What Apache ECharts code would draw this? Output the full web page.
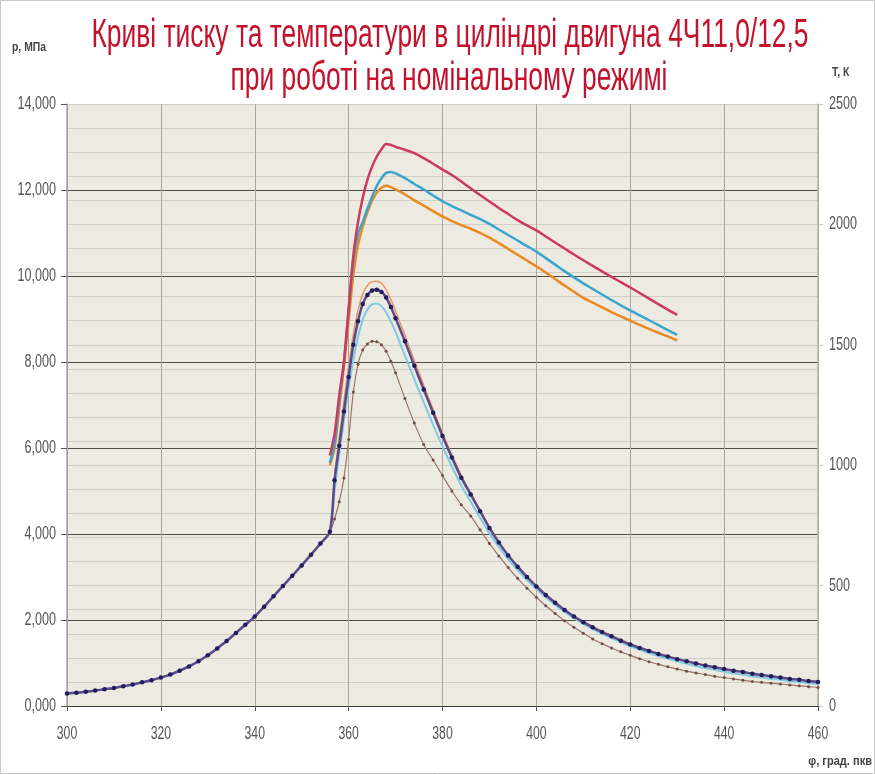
<!DOCTYPE html>
<html><head><meta charset="utf-8">
<script src="https://cdn.jsdelivr.net/npm/echarts@6/dist/echarts.min.js"></script>
<style>html,body{margin:0;padding:0;background:#fff}#c{width:875px;height:774px}</style>
</head><body><div id="c"></div>
<script>
// crank angle, degrees (compression, common to all pressure curves)
const phiComp = [300,302,304,306,308,310,312,314,316,318,320,322,324,326,328,330,332,334,336,338,340,342,344,346,348,350,352,354,356];
const pComp = [0.29,0.31,0.33,0.36,0.39,0.42,0.46,0.50,0.55,0.60,0.66,0.73,0.82,0.92,1.04,1.18,1.34,1.51,1.70,1.89,2.08,2.31,2.55,2.79,3.03,3.27,3.52,3.78,4.05];
// combustion + expansion
const phiExp = [357,358,359,360,361,362,363,364,365,366,367,368,369,370,372,374,376,378,380,382,384,386,388,390,392,394,396,398,400,402,404,406,408,410,412,414,416,418,420,422,424,426,428,430,432,434,436,438,440,442,444,446,448,450,452,454,456,458,460];
const pNavy = [5.25,6.05,6.85,7.65,8.40,8.95,9.35,9.56,9.66,9.68,9.63,9.50,9.28,9.02,8.48,7.91,7.36,6.82,6.28,5.78,5.31,4.92,4.53,4.14,3.80,3.50,3.24,3.00,2.78,2.58,2.40,2.23,2.08,1.95,1.83,1.72,1.62,1.52,1.43,1.35,1.28,1.21,1.15,1.09,1.04,0.99,0.94,0.90,0.86,0.82,0.79,0.75,0.72,0.69,0.66,0.63,0.61,0.58,0.56];
const pOrange = [5.35,6.25,7.10,7.90,8.65,9.20,9.58,9.78,9.87,9.88,9.83,9.68,9.45,9.18,8.62,8.03,7.46,6.90,6.35,5.84,5.36,4.96,4.56,4.17,3.83,3.52,3.26,3.02,2.80,2.60,2.42,2.25,2.10,1.97,1.85,1.74,1.64,1.54,1.45,1.37,1.29,1.22,1.16,1.10,1.05,1.00,0.95,0.91,0.87,0.83,0.80,0.76,0.73,0.70,0.67,0.64,0.62,0.59,0.57];
const pCyan = [5.00,5.85,6.65,7.40,8.05,8.58,8.98,9.22,9.34,9.36,9.30,9.15,8.94,8.70,8.15,7.60,7.06,6.54,6.04,5.57,5.13,4.75,4.38,4.02,3.70,3.41,3.16,2.93,2.72,2.53,2.35,2.19,2.04,1.91,1.79,1.68,1.58,1.48,1.39,1.31,1.23,1.16,1.10,1.04,0.98,0.93,0.88,0.84,0.80,0.76,0.73,0.69,0.66,0.63,0.61,0.58,0.56,0.53,0.51];
const pBrown = [4.35,4.75,5.30,6.20,7.30,7.95,8.28,8.42,8.48,8.47,8.40,8.25,8.02,7.75,7.15,6.58,6.08,5.72,5.36,5.00,4.68,4.42,4.10,3.78,3.49,3.22,2.97,2.74,2.53,2.33,2.15,1.98,1.83,1.69,1.56,1.45,1.35,1.26,1.18,1.10,1.03,0.97,0.91,0.86,0.81,0.77,0.73,0.69,0.66,0.63,0.60,0.57,0.55,0.53,0.51,0.49,0.47,0.45,0.43];
// temperatures, K
const phiT = [356,357,358,359,360,361,362,363,364,365,366,367,368,369,370,372,374,376,378,380,382,384,386,388,390,392,394,396,398,400,402,404,406,408,410,412,414,416,418,420,422,424,426,428,430];
const tRed = [1040,1130,1290,1430,1650,1870,2010,2110,2185,2240,2282,2312,2334,2330,2322,2310,2296,2275,2252,2228,2205,2178,2150,2122,2095,2068,2043,2018,1996,1975,1950,1925,1900,1875,1851,1828,1805,1782,1760,1738,1715,1692,1669,1646,1624];
const tCyan = [1010,1090,1260,1430,1640,1850,1960,2010,2065,2115,2160,2192,2214,2218,2212,2192,2168,2145,2120,2096,2076,2058,2040,2022,2002,1979,1956,1933,1910,1887,1860,1833,1806,1780,1755,1732,1709,1686,1664,1643,1622,1602,1582,1561,1541];
const tOrange = [1000,1070,1240,1410,1600,1790,1915,1990,2050,2098,2132,2152,2160,2155,2145,2125,2100,2078,2055,2033,2014,1997,1982,1965,1945,1922,1898,1874,1850,1826,1800,1773,1746,1720,1695,1675,1655,1636,1618,1600,1583,1566,1550,1535,1518];

// tick labels
const xTicks = [300,320,340,360,380,400,420,440,460];
const pTicks = [0,2,4,6,8,10,12,14];
const tTicks = [0,500,1000,1500,2000,2500];

const titleLines = ['Криві тиску та температури в циліндрі двигуна 4Ч11,0/12,5', 'при роботі на номінальному режимі'];
const pName = 'р, МПа', tName = 'Т, К', phiName = 'φ, град. пкв';

function pairs(xs, ys){ return xs.map((x,i)=>[x, ys[i]]); }
const phiP = phiComp.concat(phiExp);
const FONT = "'Liberation Sans',Arial,sans-serif";

const chart = echarts.init(document.getElementById('c'), null, {renderer:'canvas'});
const lineS = (name, xs, ys, color, width, yIdx, z, extra) => Object.assign({
  name, type:'line', yAxisIndex:yIdx, data:pairs(xs, ys), smooth:0.3, showSymbol:false, z,
  lineStyle:{color, width}, itemStyle:{color}
}, extra||{});

chart.setOption({
  animation:false,
  backgroundColor:'#ffffff',
  grid:{left:67, right:57, top:104, bottom:68, show:true, backgroundColor:'#EDEAE2', borderWidth:0},
  xAxis:{type:'value', min:300, max:460, interval:20,
    axisLine:{show:true, onZero:false, lineStyle:{color:'#3c3c3c', width:1.2}},
    axisTick:{show:true, length:5, lineStyle:{color:'#555'}},
    axisLabel:{show:false},
    splitLine:{show:true, lineStyle:{color:'#ABA79F', width:1}}},
  yAxis:[
    {type:'value', min:0, max:14, interval:2, position:'left',
      axisLine:{show:true, lineStyle:{color:'#A3A3A3', width:1.5}},
      axisTick:{show:true, length:6, lineStyle:{color:'#555'}},
      axisLabel:{show:false},
      splitLine:{show:true, lineStyle:{color:'#4f4d49', width:1.2}}},
    {type:'value', min:0, max:2500, interval:500, position:'right',
      axisLine:{show:true, lineStyle:{color:'#B5B2AC', width:1.5}},
      axisTick:{show:true, length:5, lineStyle:{color:'#C8C5BE'}},
      axisLabel:{show:false},
      splitLine:{show:true, lineStyle:{color:'#D2CEC5', width:1}},
      minorTick:{show:false, splitNumber:5},
      minorSplitLine:{show:true, lineStyle:{color:'#D2CEC5', width:1}}}
  ],
  series:[
    lineS('T3', phiT, tOrange, '#E98A22', 2.5, 1, 2),
    lineS('T2', phiT, tCyan, '#3AA6CC', 2.5, 1, 3),
    lineS('T1', phiT, tRed, '#CC3A5C', 2.5, 1, 4),
    lineS('p4', phiP, pComp.concat(pBrown), '#9C7466', 1.2, 0, 5,
      {showSymbol:true, showAllSymbol:true, symbol:'circle', symbolSize:3, itemStyle:{color:'#6E4E46'}}),
    lineS('p3', phiP, pComp.concat(pCyan), '#7FCBE2', 2, 0, 6),
    lineS('p2', phiP, pComp.concat(pOrange), '#E8956A', 1.5, 0, 7),
    lineS('p1', phiP, pComp.concat(pNavy), '#5A4A8C', 2.5, 0, 8,
      {showSymbol:true, showAllSymbol:true, symbol:'circle', symbolSize:4.5, itemStyle:{color:'#1E1E5C'}})
  ]
});

// text drawn with horizontal compression (the reference uses a narrow face)
function txt(text, x, y, align, size, color, weight, sx){
  return {type:'text', x, y, scaleX:sx, silent:true, z:100,
    style:{text, x:0, y:0, textAlign:align, textVerticalAlign:'middle',
      font:(weight||'normal')+' '+size+'px '+FONT, fill:color}};
}
const g = [
  {type:'rect', shape:{x:0.5,y:0.5,width:874,height:773}, style:{fill:null, stroke:'#c8c8c8', lineWidth:1}, silent:true},
  txt(titleLines[0], 450, 36, 'center', 40, '#C4122C', 'normal', 0.66),
  txt(titleLines[1], 449, 79, 'center', 40, '#C4122C', 'normal', 0.66),
  txt(pName, 12, 47, 'left', 13, '#444', 'bold', 0.8),
  txt(tName, 832, 72, 'left', 13, '#444', 'bold', 0.8),
  txt(phiName, 872, 761, 'right', 13, '#444', 'bold', 0.85)
];
const axisY = chart.convertToPixel({yAxisIndex:0}, 0);
xTicks.forEach(v => g.push(txt(String(v), chart.convertToPixel({xAxisIndex:0}, v), axisY + 28, 'center', 18, '#555', 'normal', 0.68)));
const leftX = chart.convertToPixel({xAxisIndex:0}, 300), rightX = chart.convertToPixel({xAxisIndex:0}, 460);
pTicks.forEach(v => g.push(txt(v.toFixed(3).replace('.', ','), leftX - 11, chart.convertToPixel({yAxisIndex:0}, v), 'right', 18, '#555', 'normal', 0.7)));
tTicks.forEach(v => g.push(txt(String(v), rightX + 11, chart.convertToPixel({yAxisIndex:1}, v), 'left', 18, '#555', 'normal', 0.7)));
chart.setOption({graphic:g});
</script></body></html>
